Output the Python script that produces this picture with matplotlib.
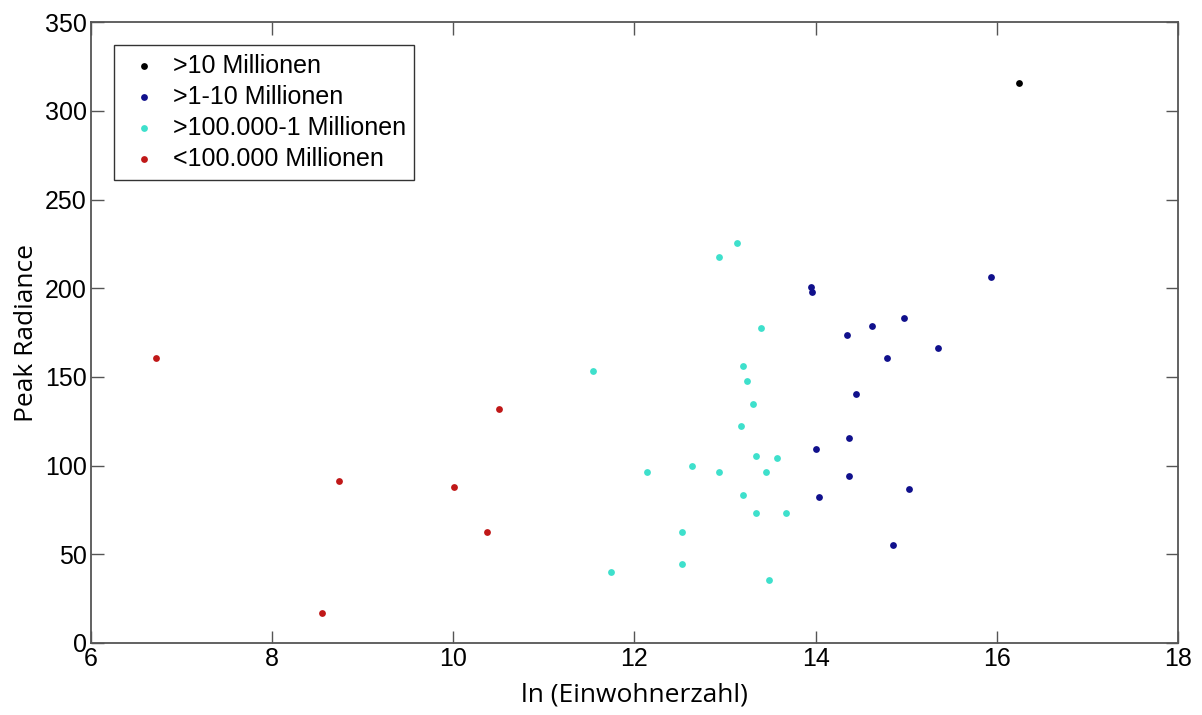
import matplotlib.pyplot as plt

# >10 Millionen
big_x = [16.25]
big_y = [315.7]

# >1-10 Millionen
mid_x = [15.94, 13.95, 13.96, 14.35, 14.62, 14.98, 15.35, 14.79, 14.45, 14.37,
         14.00, 14.37, 15.03, 14.04, 14.85]
mid_y = [206.3, 200.5, 197.8, 173.6, 178.5, 183.4, 166.1, 160.5, 140.2, 115.4,
         109.4, 94.3, 87.0, 82.1, 55.4]

# >100.000-1 Millionen
small_x = [13.13, 12.93, 13.40, 11.54, 13.20, 13.24, 13.31, 13.18, 13.34, 13.57,
           12.14, 12.64, 12.93, 13.45, 13.20, 13.34, 13.67, 12.52, 12.53, 11.74, 13.49]
small_y = [225.6, 217.4, 177.4, 153.3, 156.3, 147.7, 134.9, 122.3, 105.4, 104.3,
           96.6, 100.0, 96.6, 96.2, 83.4, 73.5, 73.3, 62.4, 44.7, 40.2, 35.3]

# <100.000 Millionen
tiny_x = [6.72, 10.50, 8.74, 10.01, 10.37, 8.55]
tiny_y = [160.7, 132.1, 91.3, 88.1, 62.4, 17.1]

labels = ['>10 Millionen', '>1-10 Millionen', '>100.000-1 Millionen', '<100.000 Millionen']
colors = ['black', '#10108c', '#3ee0cc', '#c01818']

fig = plt.figure(figsize=(12.02, 7.15), dpi=100)
ax = fig.add_axes([0.0757, 0.1007, 0.9043, 0.8683])

groups = [(big_x, big_y), (mid_x, mid_y), (small_x, small_y), (tiny_x, tiny_y)]
for (gx, gy), lab, col in zip(groups, labels, colors):
    ax.scatter(gx, gy, s=24, color=col, label=lab, linewidths=0)

ax.set_xlim(6, 18)
ax.set_ylim(0, 350)
ax.set_xticks(range(6, 19, 2))
ax.set_yticks(range(0, 351, 50))
ax.tick_params(direction='in', length=9, width=1, top=True, right=True,
               color='#555555', labelsize=18, pad=3)
for lbl in ax.get_xticklabels() + ax.get_yticklabels():
    lbl.set_fontfamily('Liberation Sans')
for sp in ax.spines.values():
    sp.set_color('#555555')
    sp.set_linewidth(1.3)

ax.set_xlabel('ln (Einwohnerzahl)', fontsize=19, family='Open Sans', labelpad=8)
ax.set_ylabel('Peak Radiance', fontsize=19, family='Open Sans', labelpad=4)

leg = ax.legend(loc='upper left', bbox_to_anchor=(0.021, 0.963), borderaxespad=0,
                fancybox=False, edgecolor='#333333', framealpha=1,
                prop={'family': 'Liberation Sans', 'size': 18},
                handlelength=1.7, handletextpad=0.3, labelspacing=0.28, borderpad=0.35,
                markerscale=1.0, scatterpoints=1)
leg.get_frame().set_linewidth(1.0)

fig.savefig('out.png', dpi=100)
